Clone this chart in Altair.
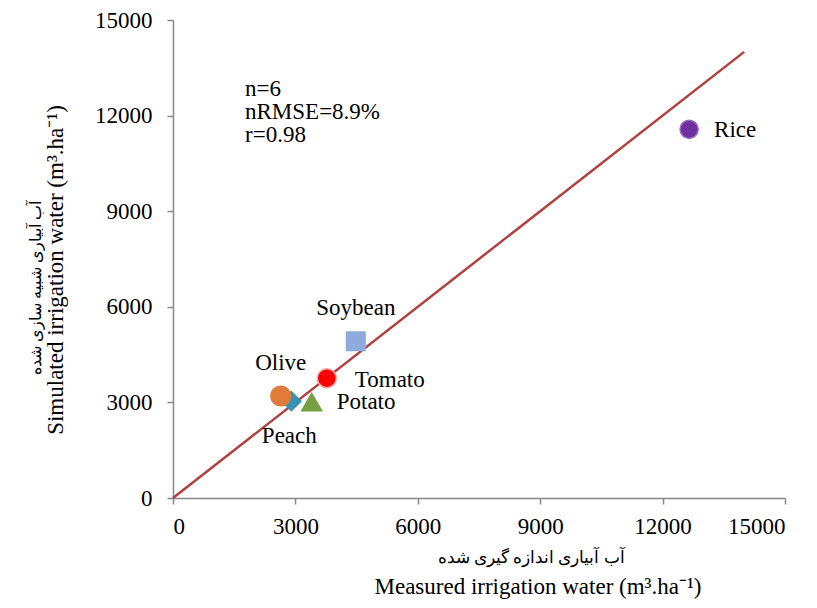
import altair as alt
import pandas as pd

# ---- data ----
crops = ["Rice", "Soybean", "Tomato", "Peach", "Olive", "Potato"]
measured = [12650, 4480, 3770, 2900, 2640, 3400]
simulated = [11570, 4920, 3760, 3040, 3200, 3010]
line_x = [0, 14000]
line_y = [0, 14000]
tick_values = [0, 3000, 6000, 9000, 12000, 15000]
stats_lines = ["n=6", "nRMSE=8.9%", "r=0.98"]
x_title_fa = "آب آبیاری اندازه گیری شده"
x_title_en = "Measured irrigation water (m³.ha⁻¹)"
y_title_fa = "آب آبیاری شبیه سازی شده"
y_title_en = "Simulated irrigation water (m³.ha⁻¹)"

# ---- styles ----
shape_range = ["circle", "square", "circle", "diamond", "circle", "triangle-up"]
fill_range = ["#7030A0", "#8FAADC", "#FF0000", "#3A93B0", "#E07B39", "#77A043"]
stroke_range = ["#9A6CC4", "#8FAADC", "#F5A3A3", "#3A93B0", "#E07B39", "#77A043"]
size_range = [330, 400, 330, 300, 330, 440]
label_style = {
    "Rice": dict(dx=25, dy=8, align="left"),
    "Soybean": dict(dx=0, dy=-26, align="center"),
    "Tomato": dict(dx=28, dy=9, align="left"),
    "Olive": dict(dx=0, dy=-26, align="center"),
    "Peach": dict(dx=-2, dy=42, align="center"),
    "Potato": dict(dx=25, dy=7, align="left"),
}

SERIF = "'Times New Roman', 'Liberation Serif', serif"
FS = 23
W, H = 612, 478

pts = pd.DataFrame({"crop": crops, "measured": measured, "simulated": simulated})
line_df = pd.DataFrame({"x": line_x, "y": line_y})

xscale = alt.Scale(domain=[0, 15000], nice=False)
yscale = alt.Scale(domain=[0, 15000], nice=False)
axis_common = dict(
    values=tick_values, format="d", title=None, grid=False, tickSize=6,
    domainColor="#888888", tickColor="#888888", domainWidth=1.5, tickWidth=1.5,
    labelFontSize=FS, labelFont=SERIF, labelColor="black",
)
xaxis = alt.Axis(labelPadding=11, **axis_common)
yaxis = alt.Axis(labelPadding=15, **axis_common)

line = alt.Chart(line_df).mark_line(color="#B0413E", strokeWidth=2.5).encode(
    x=alt.X("x:Q", scale=xscale, axis=xaxis),
    y=alt.Y("y:Q", scale=yscale, axis=yaxis),
)

points = alt.Chart(pts).mark_point(filled=True, opacity=1, strokeWidth=1.5).encode(
    x=alt.X("measured:Q", scale=xscale, axis=xaxis),
    y=alt.Y("simulated:Q", scale=yscale, axis=yaxis),
    shape=alt.Shape("crop:N", scale=alt.Scale(domain=crops, range=shape_range), legend=None),
    fill=alt.Fill("crop:N", scale=alt.Scale(domain=crops, range=fill_range), legend=None),
    stroke=alt.Stroke("crop:N", scale=alt.Scale(domain=crops, range=stroke_range), legend=None),
    size=alt.Size("crop:N", scale=alt.Scale(domain=crops, range=size_range), legend=None),
)

label_layers = []
for c in crops:
    st = label_style[c]
    label_layers.append(
        alt.Chart(pts).transform_filter(alt.datum.crop == c).mark_text(
            font=SERIF, fontSize=FS, color="black", baseline="alphabetic", **st
        ).encode(
            x=alt.X("measured:Q", scale=xscale),
            y=alt.Y("simulated:Q", scale=yscale),
            text="crop:N",
        )
    )

def fixed_text(txt, x, y, size, angle=0, font=SERIF, align="center"):
    return alt.Chart(pd.DataFrame({"t": [txt]})).mark_text(
        font=font, fontSize=size, color="black", align=align,
        baseline="alphabetic", angle=angle,
    ).encode(x=alt.value(x), y=alt.value(y), text="t:N")

stats = alt.Chart(pd.DataFrame({"t": [stats_lines]})).mark_text(
    font=SERIF, fontSize=FS, color="black", align="left", baseline="alphabetic", lineHeight=23
).encode(x=alt.value(72), y=alt.value(76), text="t")

titles = [
    fixed_text(x_title_fa, 358, 543, 17),
    fixed_text(x_title_en, 365, 574, FS),
    fixed_text(y_title_en, -110, 250, FS, angle=270),
    fixed_text(y_title_fa, -132, 268, 16, angle=270),
]

chart = alt.layer(line, points, *label_layers, stats, *titles).properties(
    width=W, height=H,
    autosize=alt.AutoSizeParams(type="none"),
    padding={"left": 165, "top": 12, "right": 20, "bottom": 102},
    background="white",
).configure_view(stroke=None)

chart.save("out.html", embed_options={"renderer": "svg", "actions": False})
